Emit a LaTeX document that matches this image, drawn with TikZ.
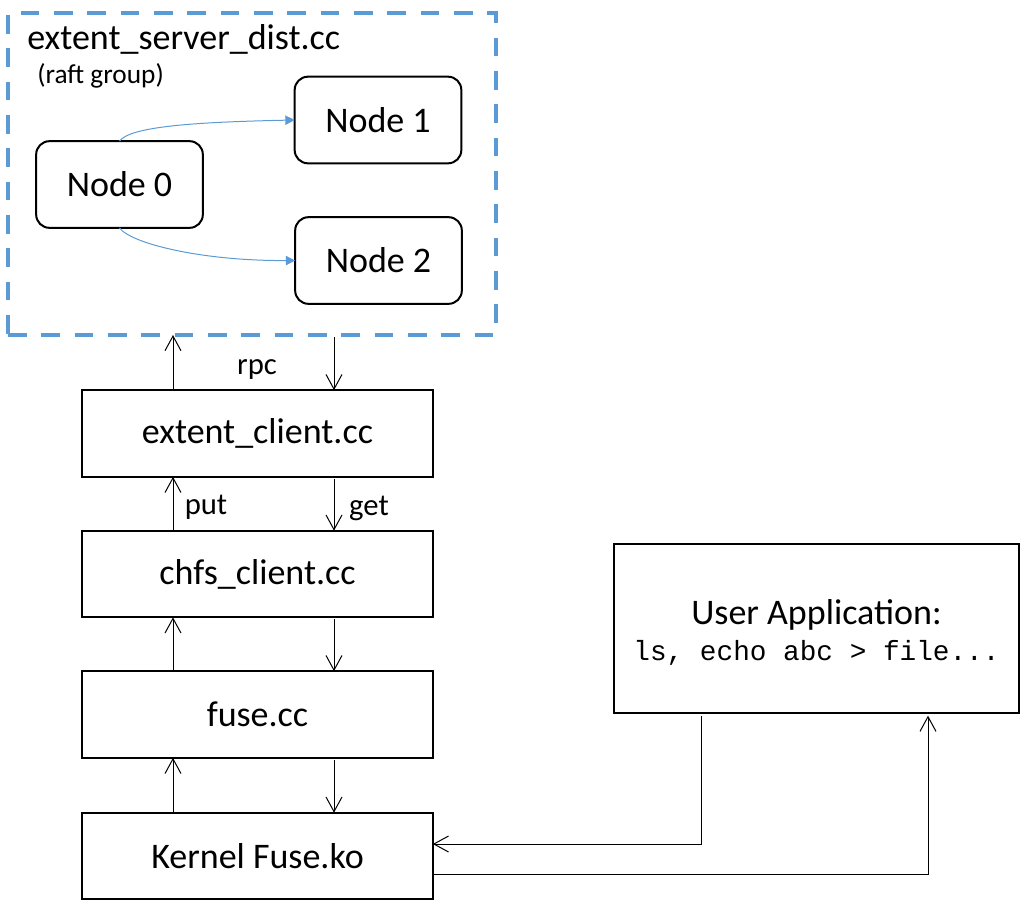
\documentclass[tikz,border=0pt]{standalone}
\usepackage{fontspec}
\setmainfont{Carlito}
\setmonofont{Liberation Mono}
\usepackage{xcolor}
\usetikzlibrary{arrows.meta}
\definecolor{raftblue}{HTML}{5B9BD5}

\begin{document}
\begin{tikzpicture}[x=0.75pt,y=-0.75pt,
        layer/.style={draw,line width=1.5pt,minimum width=263pt,minimum height=65pt,
            inner sep=0pt,outer sep=0pt,font=\fontsize{27}{30}\selectfont},
        peer/.style={layer,rounded corners=10pt,minimum width=125pt},
        call/.style={-{Straight Barb[length=11pt,width=12pt]},line width=0.75pt},
        vote/.style={-{Triangle[length=7pt,width=7pt]},draw=raftblue,line width=0.75pt},
        lbl/.style={inner sep=0pt,font=\fontsize{23}{26}\selectfont}]
        \useasboundingbox (0,0) rectangle (1025,908);

        % raft group
        \node[draw=raftblue,line width=3pt,dash pattern=on 14pt off 11pt,
              minimum width=366pt,minimum height=241.5pt,inner sep=0pt,outer sep=0pt] (raft) at (252,174) {};
        \node[anchor=base west,inner sep=0pt,font=\fontsize{27}{30}\selectfont] (title) at (27,49) {extent\_server\_dist.cc};
        \node[anchor=base west,inner sep=0pt,font=\fontsize{20.5}{24}\selectfont] (grp) at (37,83) {(raft group)};
        \node[peer] (n0) at (119.5,184.5) {Node 0};
        \node[peer] (n1) at (378,120) {Node 1};
        \node[peer] (n2) at (378.5,260.5) {Node 2};
        \draw[vote] (n0.north) .. controls (130,126) and (200,122) .. (n1.west);
        \draw[vote] (n0.south) .. controls (130,243) and (200,261) .. (n2.west);

        % client stack
        \node[layer] (extent) at (257.5,433.5) {extent\_client.cc};
        \node[layer] (chfs) at (257.5,574) {chfs\_client.cc};
        \node[layer] (fuse) at (257.5,714.5) {fuse.cc};
        \node[layer] (kernel) at (257.5,856) {Kernel Fuse.ko};
        \coordinate (upcol) at (173,0);
        \coordinate (downcol) at (334,0);

        \draw[call] (extent.north -| upcol) -- (raft.south -| upcol);
        \draw[call] ([yshift=-1.5pt]raft.south -| downcol) -- (extent.north -| downcol);
        \node[lbl] (rpc) at (257,370) {rpc};

        \draw[call] (chfs.north -| upcol) -- (extent.south -| upcol);
        \draw[call] ([yshift=-1.5pt]extent.south -| downcol) -- (chfs.north -| downcol);
        \node[lbl] (put) at (206,507) {put};
        \node[lbl] (get) at (369,508) {get};

        \draw[call] (fuse.north -| upcol) -- (chfs.south -| upcol);
        \draw[call] ([yshift=-1.5pt]chfs.south -| downcol) -- (fuse.north -| downcol);

        \draw[call] (kernel.north -| upcol) -- (fuse.south -| upcol);
        \draw[call] ([yshift=-1.5pt]fuse.south -| downcol) -- (kernel.north -| downcol);

        % user side
        \node[draw,line width=1.5pt,minimum width=303.75pt,minimum height=126.75pt,inner sep=0pt,outer sep=0pt,
              font=\fontsize{27}{30}\selectfont] (app) at (816.5,628.5)
              {\raisebox{0pt}[\dimexpr\height+9pt\relax]{\begin{tabular}{@{}c@{}}User Application:\\[-3pt]
               {\ttfamily\fontsize{20.8}{24}\selectfont ls, echo abc > file...}\end{tabular}}};
        \coordinate (appout) at (701,0);
        \coordinate (appin) at (928,0);
        \coordinate (inrow) at (0,844);
        \coordinate (outrow) at (0,874);
        \draw[call] ([yshift=-2pt]app.south -| appout) -- (appout |- inrow) -- (kernel.east |- inrow);
        \draw[call] (kernel.east |- outrow) -- (appin |- outrow) -- ([yshift=-2pt]app.south -| appin);
    \end{tikzpicture}
\end{document}
